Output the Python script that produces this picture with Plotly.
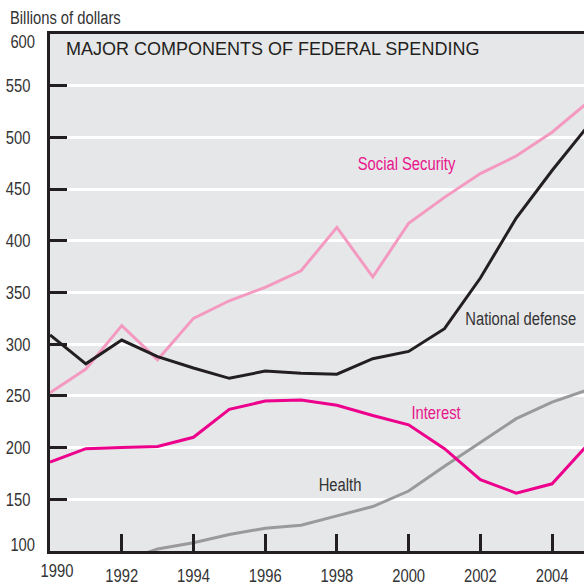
import plotly.graph_objects as go

years = list(range(1990, 2006))
social_security = [253, 276, 318, 285, 325, 342, 355, 371, 413, 365, 417, 442, 465, 482, 505, 534]
national_defense = [309, 281, 304, 288, 277, 267, 274, 272, 271, 286, 293, 315, 364, 422, 468, 511]
interest = [186, 199, 200, 201, 210, 237, 245, 246, 241, 231, 222, 199, 169, 156, 165, 203]
health_years = list(range(1992, 2006))
health = [90, 102, 108, 116, 122, 125, 134, 143, 158, 182, 205, 228, 244, 256]

y_ticks = [150, 200, 250, 300, 350, 400, 450, 500, 550]
x_ticks = [1992, 1994, 1996, 1998, 2000, 2002, 2004]

# "narrowmark" is a marker used to condense these texts (like a narrow face)
NARROW = "Liberation Sans, narrowmark, sans-serif"
REG = "Liberation Sans, Arial, sans-serif"

W, H = 584, 586
ml, mr, mt, mb = 50, 0, 34, 29
pw, ph = W - ml - mr, H - mt - mb

fig = go.Figure()
fig.add_trace(go.Scatter(x=health_years, y=health, mode="lines",
                         line=dict(color="#9a9a9c", width=3), hoverinfo="skip"))
fig.add_trace(go.Scatter(x=years, y=interest, mode="lines",
                         line=dict(color="#ec008c", width=3), hoverinfo="skip"))
fig.add_trace(go.Scatter(x=years, y=social_security, mode="lines",
                         line=dict(color="#f49ac1", width=3), hoverinfo="skip"))
fig.add_trace(go.Scatter(x=years, y=national_defense, mode="lines",
                         line=dict(color="#231f20", width=3), hoverinfo="skip"))

# (text, x, y, colour, anchor)
labels = [
    ("Social Security", 1999.93, 474.6, "#e8168c", "center"),
    ("National defense", 2004.72, 324.6, "#333333", "right"),
    ("Interest", 2000.76, 233.8, "#e8168c", "center"),
    ("Health", 1998.09, 163.9, "#333333", "center"),
]
annotations = []
for text, x, y, c, anc in labels:
    annotations.append(dict(x=x, y=y, xref="x", yref="y", text=text, showarrow=False,
                            font=dict(family=NARROW, size=18, color=c),
                            xanchor=anc, yanchor="middle", align=anc))

annotations.append(dict(x=(64 - ml) / pw, y=(H - mb - 49) / ph, xref="paper", yref="paper",
                        text="MAJOR COMPONENTS OF FEDERAL SPENDING", showarrow=False,
                        font=dict(family=REG, size=18, color="#231f20"),
                        xanchor="left", yanchor="middle", align="left"))
annotations.append(dict(x=(8 - ml) / pw, y=(H - mb - 18) / ph, xref="paper", yref="paper",
                        text="Billions of dollars", showarrow=False,
                        font=dict(family=NARROW, size=18, color="#333333"),
                        xanchor="left", yanchor="middle", align="left"))
# extreme tick labels nudged inside like the reference
annotations.append(dict(x=0, y=600, xref="paper", yref="y", text="600", showarrow=False,
                        font=dict(family=NARROW, size=18, color="#333333"),
                        xanchor="right", yanchor="middle", align="right", xshift=-13, yshift=-8))
annotations.append(dict(x=0, y=100, xref="paper", yref="y", text="100", showarrow=False,
                        font=dict(family=NARROW, size=18, color="#333333"),
                        xanchor="right", yanchor="middle", align="right", xshift=-13, yshift=6))
annotations.append(dict(x=1990, y=0, xref="x", yref="paper", text="1990", showarrow=False,
                        font=dict(family=NARROW, size=18, color="#333333"),
                        xanchor="center", yanchor="top", xshift=7, yshift=-8))

fig.update_layout(
    width=W, height=H,
    margin=dict(l=ml, r=mr, t=mt, b=mb),
    paper_bgcolor="white",
    plot_bgcolor="#e6e7e9",
    showlegend=False,
    annotations=annotations,
    xaxis=dict(range=[1990, 2004.89], tickvals=x_ticks, ticktext=[str(v) for v in x_ticks],
               showgrid=False, zeroline=False, showline=True, linecolor="#231f20",
               linewidth=3, mirror=True, ticks="inside", ticklen=17, tickwidth=3,
               tickcolor="#231f20", tickfont=dict(family=NARROW, size=18, color="#333333"),
               ticklabelstandoff=6),
    yaxis=dict(range=[100, 600], tickvals=y_ticks, ticktext=[str(v) for v in y_ticks],
               showgrid=True, gridcolor="white", gridwidth=3, zeroline=False,
               showline=True, linecolor="#231f20", linewidth=3,
               ticks="inside", ticklen=17, tickwidth=3, tickcolor="#231f20",
               tickfont=dict(family=NARROW, size=18, color="#333333"),
               ticklabelstandoff=13),
)

post = """
document.body.style.margin='0';
document.body.style.padding='0';
document.querySelectorAll('text').forEach(function(t){
  var st = t.getAttribute('style') || '';
  if (st.indexOf('narrowmark') >= 0) {
    var L = t.getComputedTextLength();
    if (L > 0) {
      t.setAttribute('textLength', (L * 0.82).toFixed(2));
      t.setAttribute('lengthAdjust', 'spacingAndGlyphs');
    }
  }
});
"""

fig.write_html("out.html", post_script=post, config={"displayModeBar": False})
